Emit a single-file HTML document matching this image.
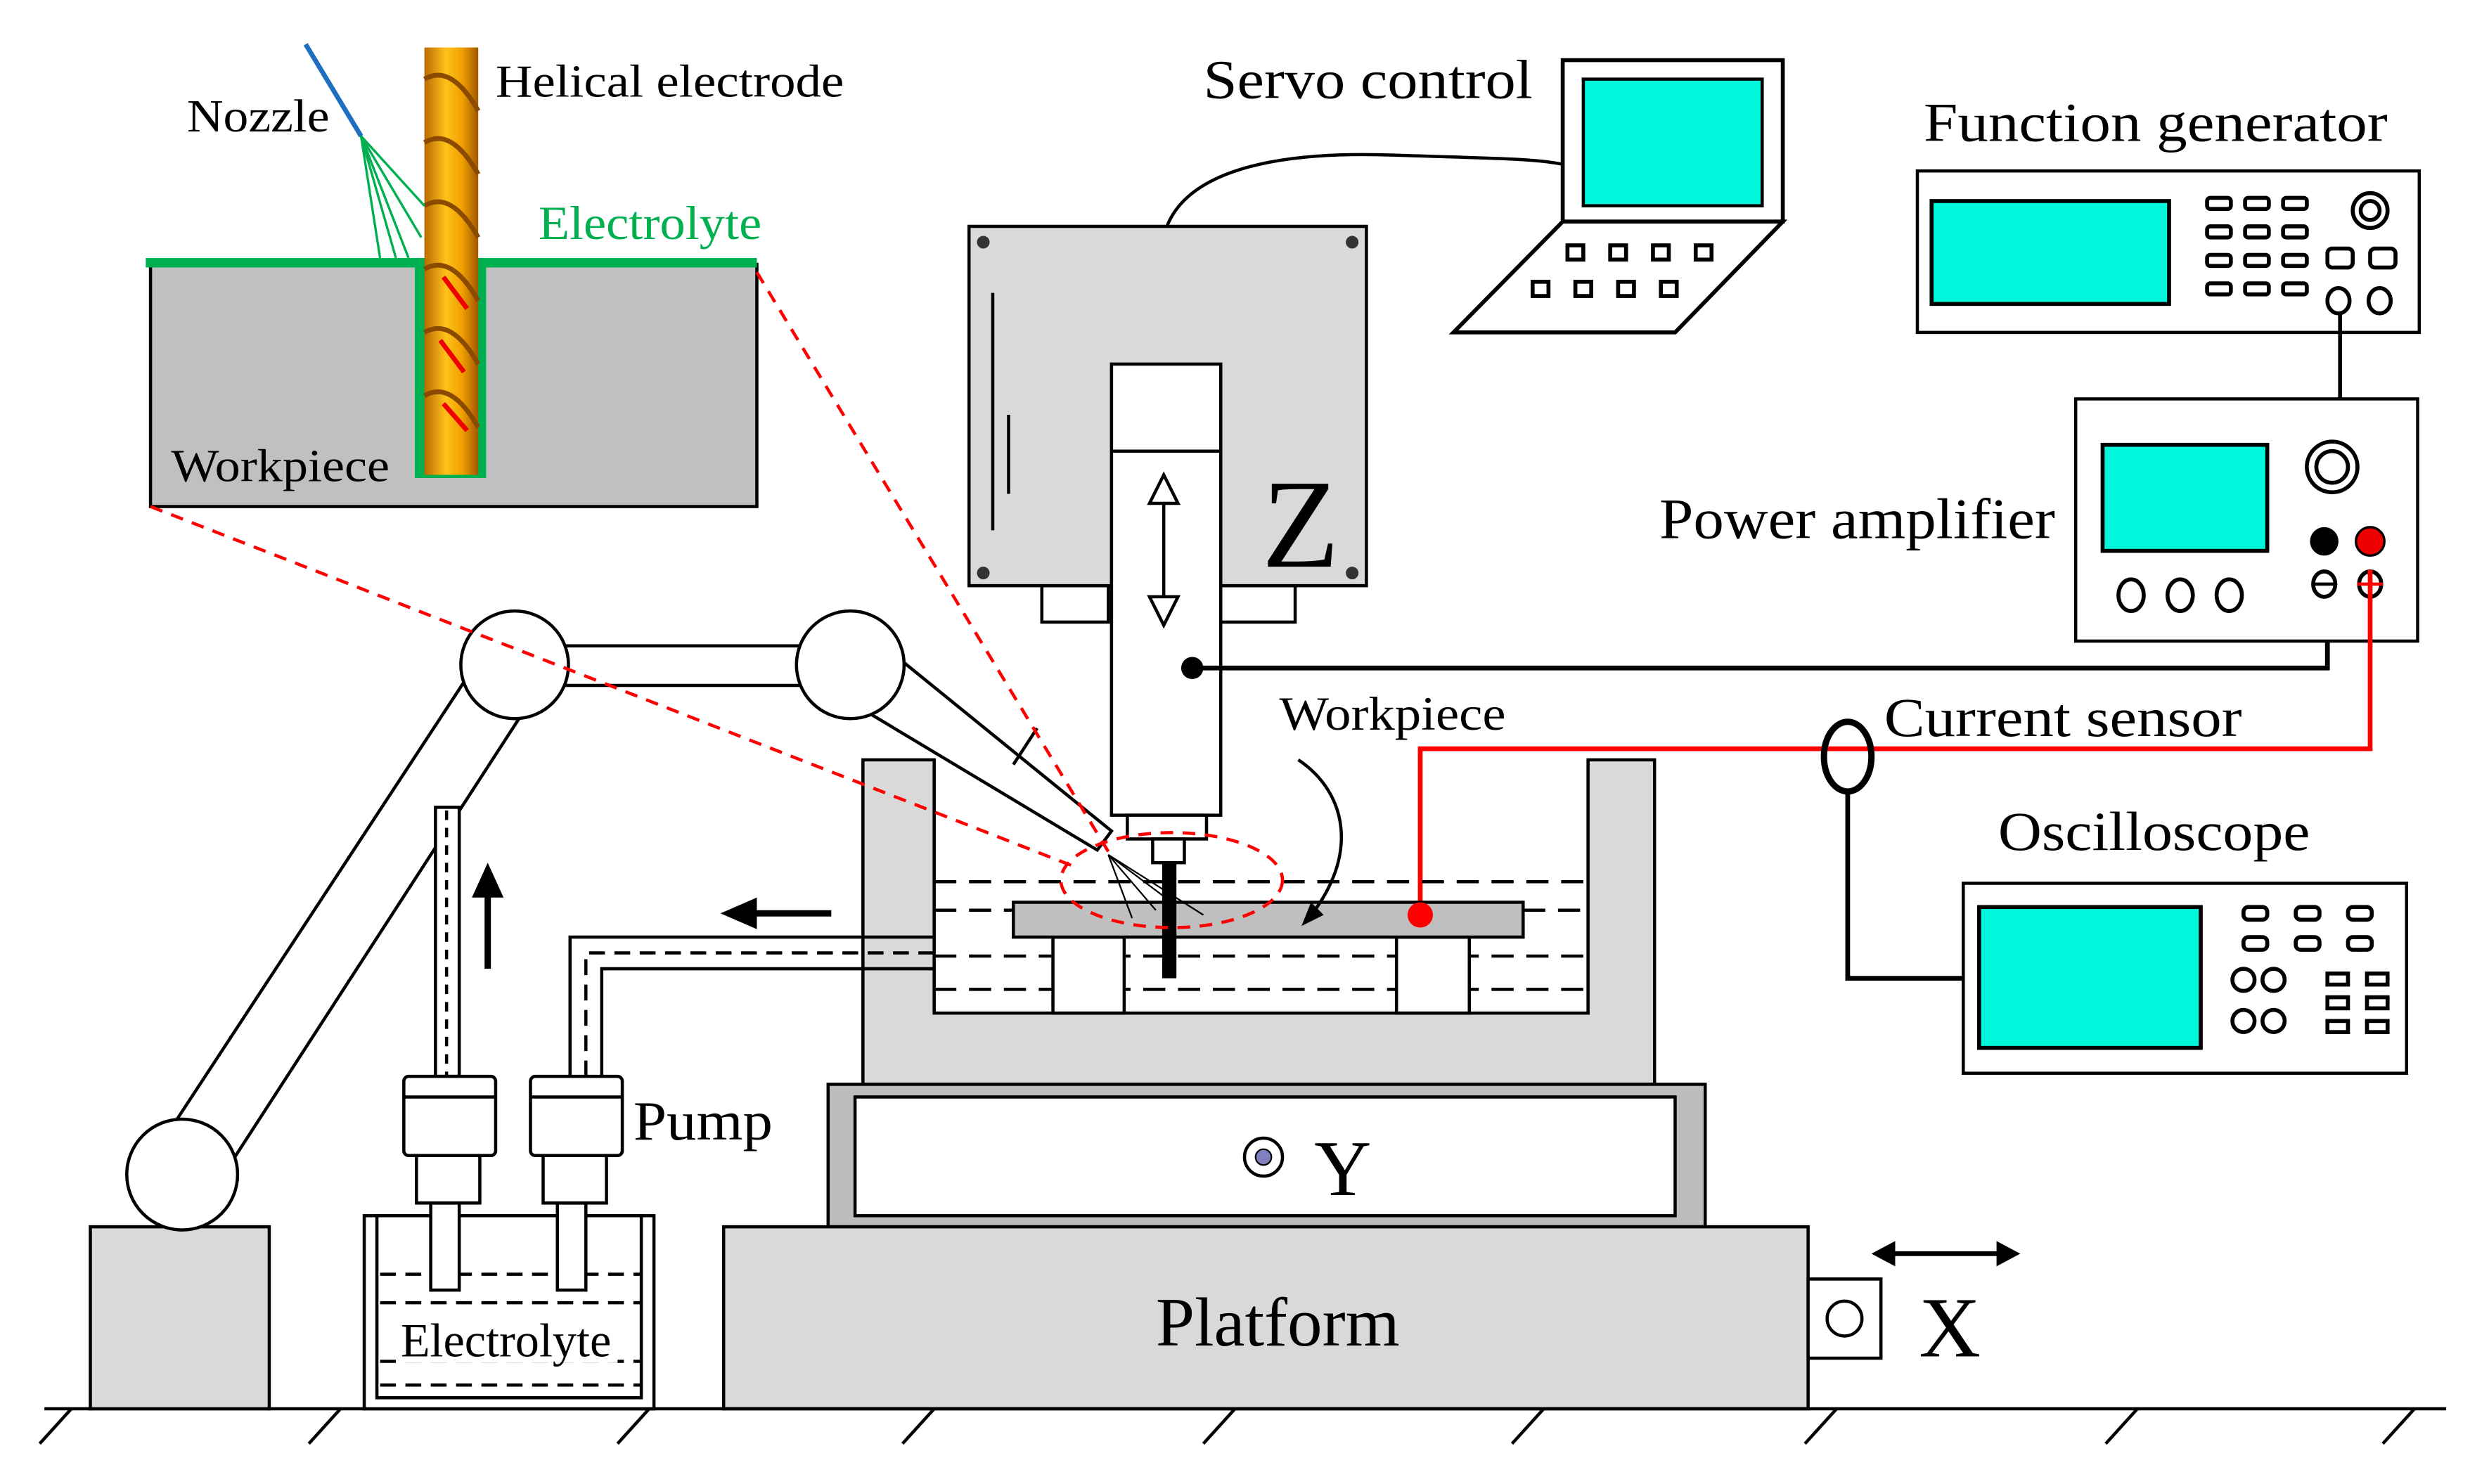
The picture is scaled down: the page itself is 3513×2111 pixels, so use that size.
<!DOCTYPE html>
<html><head><meta charset="utf-8"><style>
html,body{margin:0;padding:0;background:#fff}
svg{display:block}
text{font-family:"Liberation Serif",serif;fill:#000}
</style></head><body>
<svg width="3513" height="2111" viewBox="0 0 1560 937.5" xmlns="http://www.w3.org/2000/svg">
<defs>
<linearGradient id="gold" x1="0" x2="1"><stop offset="0" stop-color="#b86a00"/><stop offset="0.4" stop-color="#ffc21a"/><stop offset="0.7" stop-color="#f0a000"/><stop offset="1" stop-color="#a05800"/></linearGradient>
</defs>
<rect width="1560" height="937.5" fill="#fff"/>

<!-- Inset -->
<rect x="95" y="167" width="383" height="153" fill="#c0c0c0" stroke="#000" stroke-width="2"/>
<line x1="92" y1="166" x2="478" y2="166" stroke="#00b050" stroke-width="6"/>
<rect x="262" y="166" width="45" height="136" fill="#00b050"/>
<rect x="268" y="30" width="34" height="270" fill="url(#gold)"/>
<g stroke="#8a4a00" stroke-width="3" fill="none">
<path d="M268 50 Q285 40 302 70 M268 90 Q285 80 302 110 M268 130 Q285 120 302 150 M268 170 Q285 160 302 190 M268 210 Q285 200 302 230 M268 250 Q285 240 302 270"/>
</g>
<g stroke="#e00" stroke-width="3"><line x1="280" y1="175" x2="295" y2="195"/><line x1="278" y1="215" x2="293" y2="235"/><line x1="280" y1="255" x2="295" y2="272"/></g>
<line x1="193" y1="28" x2="228" y2="86" stroke="#1f6fc0" stroke-width="3"/>
<g stroke="#00b050" stroke-width="1.5"><line x1="228" y1="86" x2="240" y2="163"/><line x1="228" y1="86" x2="250" y2="163"/><line x1="228" y1="86" x2="258" y2="163"/><line x1="228" y1="86" x2="266" y2="150"/><line x1="228" y1="86" x2="268" y2="130"/></g>
<text x="118" y="83" font-size="29" textLength="90" lengthAdjust="spacingAndGlyphs">Nozzle</text>
<text x="313" y="61" font-size="29" textLength="220" lengthAdjust="spacingAndGlyphs">Helical electrode</text>
<text x="340" y="151" font-size="30" textLength="141" lengthAdjust="spacingAndGlyphs" style="fill:#00b050">Electrolyte</text>
<text x="108" y="304" font-size="29" textLength="138" lengthAdjust="spacingAndGlyphs">Workpiece</text>

<!-- Servo box -->
<rect x="658" y="370" width="42" height="23" fill="#fff" stroke="#000" stroke-width="2"/>
<rect x="771" y="370" width="47" height="23" fill="#fff" stroke="#000" stroke-width="2"/>
<rect x="612" y="143" width="251" height="227" fill="#d9d9d9" stroke="#000" stroke-width="2"/>
<g fill="#333"><circle cx="621" cy="153" r="4"/><circle cx="854" cy="153" r="4"/><circle cx="621" cy="362" r="4"/><circle cx="854" cy="362" r="4"/></g>
<line x1="627" y1="185" x2="627" y2="335" stroke="#000" stroke-width="2"/>
<line x1="637" y1="262" x2="637" y2="312" stroke="#000" stroke-width="2"/>
<text x="797" y="358" font-size="80">Z</text>
<rect x="702" y="230" width="69" height="285" fill="#fff" stroke="#000" stroke-width="2"/>
<line x1="702" y1="285" x2="771" y2="285" stroke="#000" stroke-width="2"/>
<g stroke="#000" stroke-width="2" fill="#fff">
<line x1="735" y1="305" x2="735" y2="390"/>
<polygon points="735,300 726,318 744,318"/><polygon points="735,395 726,377 744,377"/>
</g>
<rect x="712" y="515" width="50" height="15" fill="#fff" stroke="#000" stroke-width="2"/>
<rect x="728" y="530" width="20" height="15" fill="#fff" stroke="#000" stroke-width="2"/>
<path d="M737 143 C750 110 800 95 880 98 C940 100 970 100 988 104" stroke="#000" stroke-width="2" fill="none"/>
<circle cx="753" cy="422" r="7" fill="#000"/>
<polyline points="753,422 1470,422 1470,372" stroke="#000" stroke-width="3" fill="none"/>

<!-- laptop -->
<rect x="987" y="38" width="139" height="102" fill="#fff" stroke="#000" stroke-width="2.5"/>
<rect x="1000" y="50" width="113" height="80" fill="#00f7dc" stroke="#000" stroke-width="2"/>
<polygon points="987,140 1126,140 1058,210 918,210" fill="#fff" stroke="#000" stroke-width="2.5"/>
<g fill="#fff" stroke="#000" stroke-width="2.5">
<rect x="990" y="155" width="10" height="9"/><rect x="1017" y="155" width="10" height="9"/><rect x="1044" y="155" width="10" height="9"/><rect x="1071" y="155" width="10" height="9"/>
<rect x="968" y="178" width="10" height="9"/><rect x="995" y="178" width="10" height="9"/><rect x="1022" y="178" width="10" height="9"/><rect x="1049" y="178" width="10" height="9"/>
</g>
<text x="760" y="62" font-size="35" textLength="208" lengthAdjust="spacingAndGlyphs">Servo control</text>

<!-- Function generator -->
<text x="1215" y="89" font-size="35" textLength="293" lengthAdjust="spacingAndGlyphs">Function generator</text>
<rect x="1211" y="108" width="317" height="102" fill="#fff" stroke="#000" stroke-width="2"/>
<rect x="1220" y="127" width="150" height="65" fill="#00f7dc" stroke="#000" stroke-width="2.5"/>
<g fill="#fff" stroke="#000" stroke-width="2.5">
<rect x="1394" y="125" width="15" height="7" rx="2"/><rect x="1418" y="125" width="15" height="7" rx="2"/><rect x="1442" y="125" width="15" height="7" rx="2"/>
<rect x="1394" y="143" width="15" height="7" rx="2"/><rect x="1418" y="143" width="15" height="7" rx="2"/><rect x="1442" y="143" width="15" height="7" rx="2"/>
<rect x="1394" y="161" width="15" height="7" rx="2"/><rect x="1418" y="161" width="15" height="7" rx="2"/><rect x="1442" y="161" width="15" height="7" rx="2"/>
<rect x="1394" y="179" width="15" height="7" rx="2"/><rect x="1418" y="179" width="15" height="7" rx="2"/><rect x="1442" y="179" width="15" height="7" rx="2"/>
<rect x="1470" y="157" width="16" height="12" rx="3"/><rect x="1497" y="157" width="16" height="12" rx="3"/>
<circle cx="1497" cy="133" r="11"/><circle cx="1497" cy="133" r="6"/>
<ellipse cx="1477" cy="190" rx="7" ry="8"/><ellipse cx="1503" cy="190" rx="7" ry="8"/>
</g>
<line x1="1478" y1="198" x2="1478" y2="252" stroke="#000" stroke-width="2.5"/>

<!-- Power amplifier -->
<rect x="1311" y="252" width="216" height="153" fill="#fff" stroke="#000" stroke-width="2"/>
<rect x="1328" y="281" width="104" height="67" fill="#00f7dc" stroke="#000" stroke-width="2.5"/>
<g fill="#fff" stroke="#000" stroke-width="2.5">
<circle cx="1473" cy="295" r="16"/><circle cx="1473" cy="295" r="10"/>
<ellipse cx="1346" cy="376" rx="8" ry="10"/><ellipse cx="1377" cy="376" rx="8" ry="10"/><ellipse cx="1408" cy="376" rx="8" ry="10"/>
<ellipse cx="1468" cy="369" rx="7" ry="8"/><ellipse cx="1497" cy="369" rx="7" ry="8"/>
</g>
<line x1="1461" y1="369" x2="1475" y2="369" stroke="#000" stroke-width="2"/>
<circle cx="1468" cy="342" r="9" fill="#000"/>
<circle cx="1497" cy="342" r="9" fill="#e00" stroke="#000" stroke-width="1.5"/>
<text x="1048" y="340" font-size="36" textLength="250" lengthAdjust="spacingAndGlyphs">Power amplifier</text>
<polyline points="1497,360 1497,473 897,473 897,578" stroke="#f00" stroke-width="3" fill="none"/>
<line x1="1489" y1="369" x2="1505" y2="369" stroke="#f00" stroke-width="2"/>

<!-- current sensor & oscilloscope -->
<ellipse cx="1167" cy="478" rx="15" ry="22" fill="none" stroke="#000" stroke-width="4"/>
<polyline points="1167,500 1167,618 1240,618" stroke="#000" stroke-width="3" fill="none"/>
<text x="1190" y="465" font-size="35" textLength="226" lengthAdjust="spacingAndGlyphs">Current sensor</text>
<text x="1262" y="537" font-size="35" textLength="197" lengthAdjust="spacingAndGlyphs">Oscilloscope</text>
<rect x="1240" y="558" width="280" height="120" fill="#fff" stroke="#000" stroke-width="2"/>
<rect x="1250" y="573" width="140" height="89" fill="#00f7dc" stroke="#000" stroke-width="2.5"/>
<g fill="#fff" stroke="#000" stroke-width="2.5">
<rect x="1417" y="573" width="15" height="8" rx="3"/><rect x="1450" y="573" width="15" height="8" rx="3"/><rect x="1483" y="573" width="15" height="8" rx="3"/>
<rect x="1417" y="592" width="15" height="8" rx="3"/><rect x="1450" y="592" width="15" height="8" rx="3"/><rect x="1483" y="592" width="15" height="8" rx="3"/>
<circle cx="1417" cy="619" r="7"/><circle cx="1436" cy="619" r="7"/><circle cx="1417" cy="645" r="7"/><circle cx="1436" cy="645" r="7"/>
<rect x="1470" y="615" width="13" height="7"/><rect x="1495" y="615" width="13" height="7"/>
<rect x="1470" y="630" width="13" height="7"/><rect x="1495" y="630" width="13" height="7"/>
<rect x="1470" y="645" width="13" height="7"/><rect x="1495" y="645" width="13" height="7"/>
</g>

<!-- Tank -->
<polygon points="545,480 590,480 590,640 1003,640 1003,480 1045,480 1045,685 545,685" fill="#d9d9d9" stroke="#000" stroke-width="2"/>
<g stroke="#000" stroke-width="2" stroke-dasharray="14,8">
<line x1="590" y1="557" x2="1003" y2="557"/>
<line x1="590" y1="575" x2="640" y2="575"/><line x1="962" y1="575" x2="1003" y2="575"/>
<line x1="590" y1="604" x2="1003" y2="604"/>
<line x1="590" y1="625" x2="1003" y2="625"/>
</g>
<rect x="665" y="592" width="45" height="48" fill="#fff" stroke="#000" stroke-width="2"/>
<rect x="882" y="592" width="46" height="48" fill="#fff" stroke="#000" stroke-width="2"/>
<rect x="640" y="570" width="322" height="22" fill="#bfbfbf" stroke="#000" stroke-width="2"/>
<circle cx="897" cy="578" r="8" fill="#f00"/>
<rect x="734" y="545" width="9" height="73" fill="#000"/>
<g stroke="#000" stroke-width="1"><line x1="700" y1="540" x2="730" y2="575"/><line x1="700" y1="540" x2="715" y2="580"/><line x1="700" y1="540" x2="740" y2="570"/><line x1="700" y1="540" x2="760" y2="578"/></g>
<path d="M820 480 C850 500 860 540 825 582" stroke="#000" stroke-width="2" fill="none"/>
<polygon points="822,585 828,570 836,578" fill="#000"/>
<text x="808" y="461" font-size="30" textLength="143" lengthAdjust="spacingAndGlyphs">Workpiece</text>

<!-- pipe -->
<path d="M590 592 L360 592 L360 680 M590 612 L380 612 L380 680" stroke="#000" stroke-width="2" fill="none"/>
<path d="M590 602 L370 602 L370 680" stroke="#000" stroke-width="2" fill="none" stroke-dasharray="10,6"/>
<line x1="470" y1="577" x2="525" y2="577" stroke="#000" stroke-width="4"/>
<polygon points="455,577 478,567 478,587" fill="#000"/>

<!-- Y stage -->
<rect x="523" y="685" width="554" height="90" fill="#bdbdbd" stroke="#000" stroke-width="2"/>
<rect x="540" y="693" width="518" height="75" fill="#fff" stroke="#000" stroke-width="2"/>
<circle cx="798" cy="731" r="12" fill="#fff" stroke="#000" stroke-width="2"/>
<circle cx="798" cy="731" r="5" fill="#8080c0" stroke="#000"/>
<text x="830" y="755" font-size="50">Y</text>

<!-- Platform -->
<rect x="457" y="775" width="685" height="115" fill="#d9d9d9" stroke="#000" stroke-width="2"/>
<text x="730" y="850" font-size="44" textLength="154" lengthAdjust="spacingAndGlyphs">Platform</text>
<rect x="1142" y="808" width="46" height="50" fill="#fff" stroke="#000" stroke-width="2"/>
<circle cx="1165" cy="833" r="11" fill="#fff" stroke="#000" stroke-width="2"/>
<text x="1212" y="857" font-size="54">X</text>
<line x1="1192" y1="792" x2="1266" y2="792" stroke="#000" stroke-width="3"/>
<polygon points="1182,792 1197,784 1197,800" fill="#000"/><polygon points="1276,792 1261,784 1261,800" fill="#000"/>

<!-- ground -->
<line x1="28" y1="890" x2="1545" y2="890" stroke="#000" stroke-width="2"/>
<g stroke="#000" stroke-width="2">
<line x1="45" y1="890" x2="25" y2="912"/><line x1="215" y1="890" x2="195" y2="912"/><line x1="410" y1="890" x2="390" y2="912"/><line x1="590" y1="890" x2="570" y2="912"/><line x1="780" y1="890" x2="760" y2="912"/><line x1="975" y1="890" x2="955" y2="912"/><line x1="1160" y1="890" x2="1140" y2="912"/><line x1="1350" y1="890" x2="1330" y2="912"/><line x1="1525" y1="890" x2="1505" y2="912"/>
</g>

<!-- Robot arm -->
<rect x="57" y="775" width="113" height="115" fill="#d9d9d9" stroke="#000" stroke-width="2"/>
<polygon points="98,728 308,408 342,432 132,756" fill="#fff" stroke="#000" stroke-width="2"/>
<rect x="325" y="408" width="212" height="25" fill="#fff" stroke="#000" stroke-width="2"/>
<polygon points="548,400 702,525 693,537 528,438" fill="#fff" stroke="#000" stroke-width="2"/>
<line x1="640" y1="483" x2="655" y2="460" stroke="#000" stroke-width="2"/>
<rect x="275" y="510" width="15" height="170" fill="#fff" stroke="#000" stroke-width="2"/>
<line x1="282" y1="512" x2="282" y2="680" stroke="#000" stroke-width="2" stroke-dasharray="6,5"/>
<circle cx="115" cy="742" r="35" fill="#fff" stroke="#000" stroke-width="2"/>
<circle cx="325" cy="420" r="34" fill="#fff" stroke="#000" stroke-width="2"/>
<circle cx="537" cy="420" r="34" fill="#fff" stroke="#000" stroke-width="2"/>
<line x1="308" y1="560" x2="308" y2="612" stroke="#000" stroke-width="4"/>
<polygon points="308,545 298,567 318,567" fill="#000"/>

<!-- Pumps & container -->
<rect x="230" y="768" width="183" height="122" fill="#fff" stroke="#000" stroke-width="2"/>
<rect x="238" y="768" width="167" height="115" fill="#fff" stroke="#000" stroke-width="2"/>
<g stroke="#000" stroke-width="2" stroke-dasharray="10,6">
<line x1="240" y1="805" x2="405" y2="805"/><line x1="240" y1="823" x2="405" y2="823"/><line x1="240" y1="860" x2="405" y2="860"/><line x1="240" y1="875" x2="405" y2="875"/>
</g>
<g fill="#fff" stroke="#000" stroke-width="2">
<rect x="272" y="760" width="18" height="55"/><rect x="352" y="760" width="18" height="55"/>
<rect x="263" y="730" width="40" height="30"/><rect x="343" y="730" width="40" height="30"/>
<rect x="255" y="680" width="58" height="50" rx="3"/><rect x="335" y="680" width="58" height="50" rx="3"/>
</g>
<line x1="255" y1="693" x2="313" y2="693" stroke="#000" stroke-width="2"/>
<line x1="335" y1="693" x2="393" y2="693" stroke="#000" stroke-width="2"/>
<text x="400" y="720" font-size="35" textLength="88" lengthAdjust="spacingAndGlyphs">Pump</text>
<rect x="250" y="833" width="140" height="28" fill="#fff"/>
<text x="253" y="857" font-size="30" textLength="133" lengthAdjust="spacingAndGlyphs">Electrolyte</text>

<!-- red dashed (on top) -->
<g stroke="#f00" stroke-width="2" stroke-dasharray="8,6" fill="none">
<line x1="478" y1="172" x2="700" y2="538"/>
<line x1="95" y1="320" x2="680" y2="548"/>
<ellipse cx="740" cy="556" rx="70" ry="30"/>
</g>
</svg>
</body></html>
